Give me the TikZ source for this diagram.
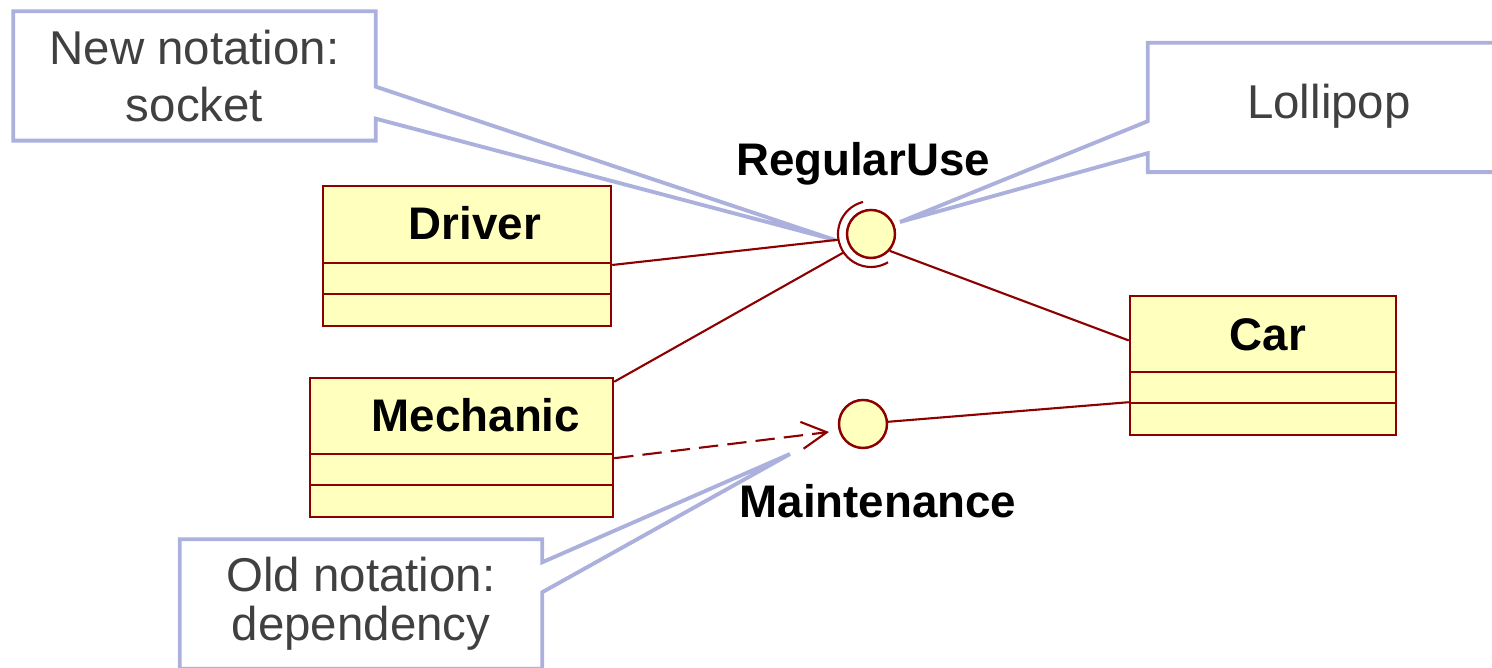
\documentclass[tikz,border=0pt]{standalone}
\usepackage{fontspec}
\setmainfont{Liberation Sans}
\usetikzlibrary{arrows.meta,calc,positioning,backgrounds}
\definecolor{umlred}{RGB}{140,0,0}
\definecolor{umlfill}{RGB}{255,255,190}
\definecolor{notecol}{RGB}{172,176,220}
\definecolor{notetext}{RGB}{64,64,64}
\tikzset{
    classbox/.style = {rectangle,
                    fill=umlfill,
                    draw=umlred,
                    line width=0.7pt,
                    inner sep=0pt},
    classname/.style = {font=\fontsize{13}{15}\selectfont\bfseries,
                    text=black,
                    anchor=base,
                    inner sep=0pt},
    iface/.style =  {circle,
                    fill=umlfill,
                    draw=umlred,
                    line width=0.7pt,
                    minimum size=0.48cm,
                    inner sep=0pt},
    link/.style =   {draw=umlred,
                    line width=0.6pt},
    note/.style =   {rectangle,
                    text=notetext,
                    align=center,
                    font=\fontsize{13.5}{16}\selectfont,
                    minimum width=3.61cm,
                    minimum height=1.28cm,
                    inner sep=0pt},
    noteline/.style = {draw=notecol,
                    fill=white,
                    line width=1.1pt,
                    line join=miter},
    >={Straight Barb[length=0.25cm,width=0.27cm]}}

\begin{document}
\begin{tikzpicture}
    \clip (0,0) rectangle (14.92,6.68);

    % classes
    \node[classbox]     (driver) [minimum width=2.88cm, minimum height=1.40cm] at (4.67,4.12)   {};
    \node[classbox]     (mech)   [minimum width=3.03cm, minimum height=1.39cm] at (4.615,2.205) {};
    \node[classbox]     (car)    [minimum width=2.66cm, minimum height=1.39cm] at (12.63,3.025) {};
    \node[classname]    at ([xshift=0.08cm,yshift=-0.55cm]driver.north)  {Driver};
    \node[classname]    at ([xshift=0.145cm,yshift=-0.55cm]mech.north)   {Mechanic};
    \node[classname]    at ([xshift=0.05cm,yshift=-0.56cm]car.north)     {Car};
    \foreach \c in {driver,mech,car} {
        \draw[link] ([yshift=0.64cm]\c.south west) -- ([yshift=0.64cm]\c.south east);
        \draw[link] ([yshift=0.33cm]\c.south west) -- ([yshift=0.33cm]\c.south east);
    }

    % interfaces
    \node[iface]        (reg)    at (8.71,4.34) {};
    \node[iface]        (maint)  at (8.63,2.44) {};
    \node[classname]    (reglabel)   at (8.63,4.92) {RegularUse};
    \node[classname]    (maintlabel) at (8.78,1.50) {Maintenance};
    \draw[link] ([shift={(104:0.33)}]reg.center) arc[start angle=104, end angle=301, radius=0.33cm];
    \coordinate (sockw)  at ([shift={(190:0.33)}]reg.center);
    \coordinate (socksw) at ([shift={(214:0.33)}]reg.center);
    \coordinate (maintin) at ([xshift=-0.34cm,yshift=-0.08cm]maint.center);

    \path[link]     ([yshift=-0.09cm]driver.east)    edge    (sockw)
                    ([yshift=-0.05cm]mech.north east) edge   (socksw)
                    (reg.318)                        edge    ([yshift=0.25cm]car.west)
                    (maint.5)                        edge    ([yshift=0.34cm]car.south west);
    \draw[link, dash pattern=on 5.5pt off 2.6pt, ->] ([yshift=0.60cm]mech.south east) -- (maintin);

    % callouts
    \node[note]     (newnote) at (1.945,5.92) {New notation:\\socket};
    \node[note]     (lolnote) [text depth=0.12cm] at (13.29,5.605) {Lollipop};
    \node[note]     (oldnote) [font=\fontsize{13.5}{14}\selectfont] at (3.61,0.64) {Old notation:\\dependency};
    \coordinate (newtip) at (8.35,4.28);
    \coordinate (loltip) at (9.00,4.46);
    \coordinate (oldtip) at (7.90,2.14);
    \begin{scope}[on background layer]
        \draw[noteline] (newnote.north west) -- (newnote.north east) -- ([yshift=0.54cm]newnote.south east)
            -- (newtip) -- ([yshift=0.22cm]newnote.south east) -- (newnote.south east) -- (newnote.south west) -- cycle;
        \draw[noteline] (lolnote.north west) -- (lolnote.north east) -- (lolnote.south east) -- (lolnote.south west)
            -- ([yshift=0.19cm]lolnote.south west) -- (loltip) -- ([yshift=0.51cm]lolnote.south west) -- cycle;
        \draw[noteline] (oldnote.north west) -- (oldnote.north east) -- ([yshift=-0.23cm]oldnote.north east)
            -- (oldtip) -- ([yshift=-0.53cm]oldnote.north east) -- (oldnote.south east) -- (oldnote.south west) -- cycle;
    \end{scope}
\end{tikzpicture}
\end{document}
